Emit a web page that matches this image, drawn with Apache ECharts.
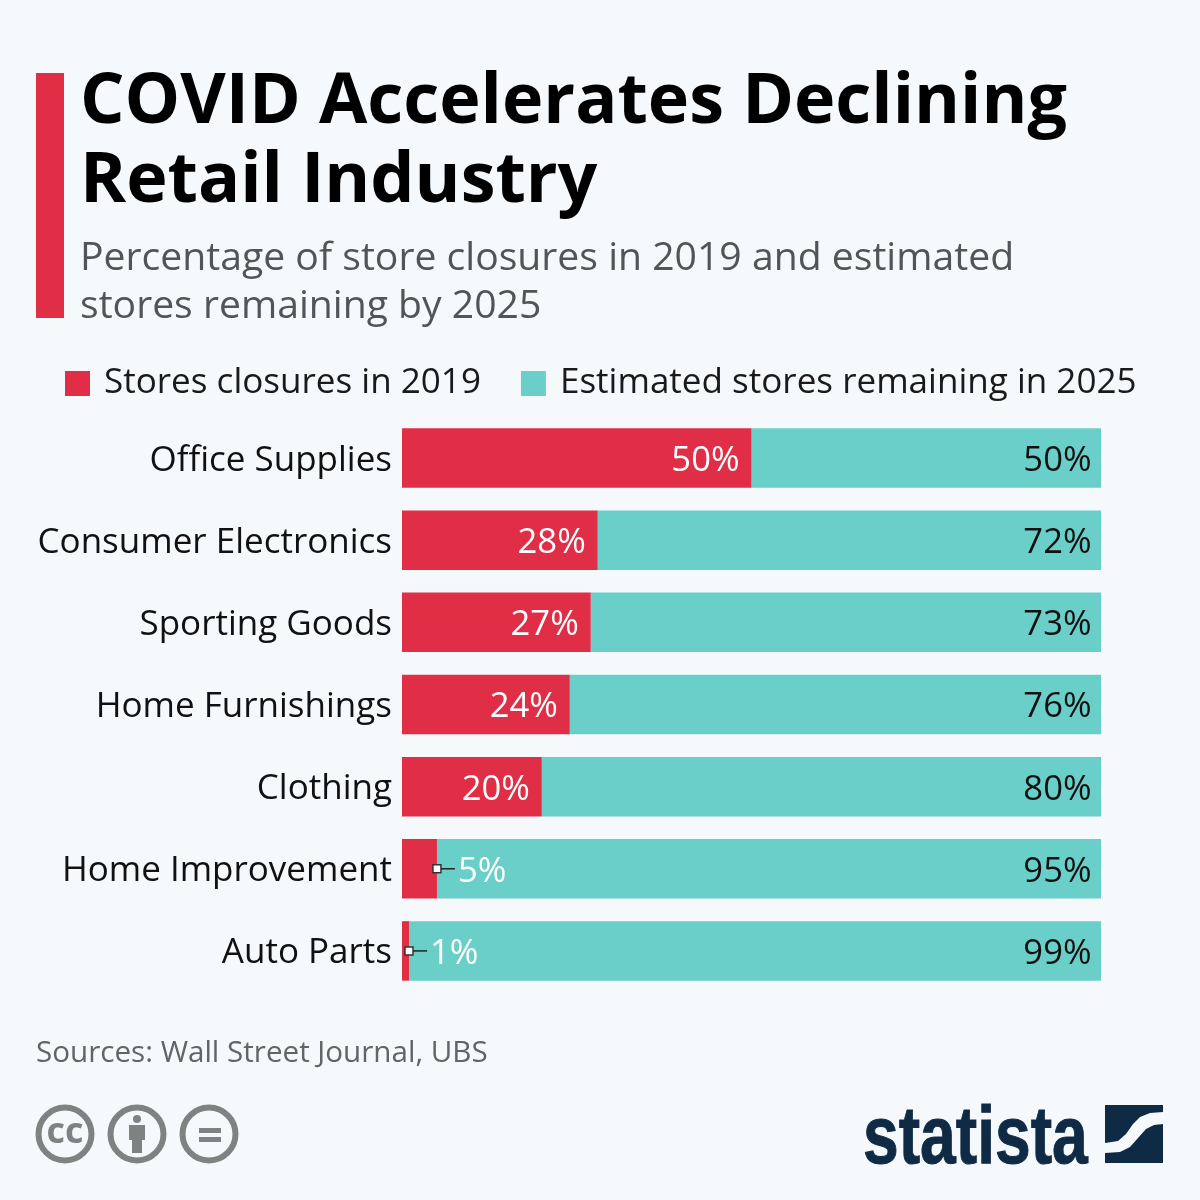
<!DOCTYPE html>
<html>
<head>
<meta charset="utf-8">
<title>COVID Accelerates Declining Retail Industry</title>
<script src="https://cdn.jsdelivr.net/npm/echarts@6/dist/echarts.min.js"></script>
<style>
html, body { margin: 0; padding: 0; background: #f5f9fc; }
#chart { width: 1200px; height: 1200px; }
</style>
</head>
<body>
<div id="chart"></div>
<script>
var categories = ['Office Supplies', 'Consumer Electronics', 'Sporting Goods', 'Home Furnishings', 'Clothing', 'Home Improvement', 'Auto Parts'];
var closures = [50, 28, 27, 24, 20, 5, 1];
var remaining = [50, 72, 73, 76, 80, 95, 99];
var seriesNames = ['Stores closures in 2019', 'Estimated stores remaining in 2025'];

var FONT = '"Open Sans", sans-serif';
var RED = '#e12e47', TEAL = '#6bcfc9', GREY = '#7c8380', NAVY = '#0f2a44';
var CALLOUT_BELOW = 10; // small bars get their label outside with a leader line

var chart = echarts.init(document.getElementById('chart'), null, { renderer: 'canvas' });

function statics() {
	return [
		{ type: 'rect', shape: { x: 36, y: 73, width: 28, height: 245 }, style: { fill: RED } },
		{ type: 'text', x: 36, y: 1039, style: { text: 'Sources: Wall Street Journal, UBS', font: '29.6px ' + FONT, fill: '#5f6666', verticalAlign: 'top' } },
		// cc icons
		{ type: 'circle', shape: { cx: 65, cy: 1134, r: 26.5 }, style: { fill: 'none', stroke: GREY, lineWidth: 6 } },
		{ type: 'circle', shape: { cx: 137, cy: 1134, r: 26.5 }, style: { fill: 'none', stroke: GREY, lineWidth: 6 } },
		{ type: 'circle', shape: { cx: 209, cy: 1134, r: 26.5 }, style: { fill: 'none', stroke: GREY, lineWidth: 6 } },
		{ type: 'text', x: 65, y: 1133, style: { text: 'cc', font: 'bold 36px ' + FONT, fill: GREY, align: 'center', verticalAlign: 'middle' } },
		{ type: 'circle', shape: { cx: 137, cy: 1119, r: 4 }, style: { fill: GREY } },
		{ type: 'rect', shape: { x: 129, y: 1125, width: 16, height: 15 }, style: { fill: GREY } },
		{ type: 'rect', shape: { x: 132, y: 1140, width: 10, height: 13 }, style: { fill: GREY } },
		{ type: 'rect', shape: { x: 199, y: 1128, width: 22, height: 5 }, style: { fill: GREY } },
		{ type: 'rect', shape: { x: 199, y: 1137, width: 22, height: 5 }, style: { fill: GREY } },
		// statista logo
		{ type: 'text', x: 863, y: 1181, scaleX: 0.783, style: { text: 'statista', font: 'bold 82px "Liberation Sans", sans-serif', fill: NAVY, stroke: NAVY, lineWidth: 1, verticalAlign: 'bottom' } },
		{ type: 'polygon', shape: { points: [[1105, 1105], [1163, 1105], [1163, 1112], [1150, 1113], [1140, 1117], [1133, 1124], [1126, 1134], [1118, 1141], [1105, 1143]] }, style: { fill: NAVY } },
		{ type: 'polygon', shape: { points: [[1163, 1124], [1163, 1163], [1105, 1163], [1105, 1153], [1120, 1152], [1130, 1147], [1138, 1138], [1146, 1129], [1154, 1125]] }, style: { fill: NAVY } }
	];
}

var option = {
	animation: false,
	backgroundColor: '#f5f9fc',
	textStyle: { fontFamily: FONT },
	title: [
		{ text: 'COVID Accelerates Declining\nRetail Industry', left: 75, top: 59, textStyle: { fontFamily: FONT, fontSize: 70, fontWeight: 'bold', color: '#000', lineHeight: 79 } },
		{ text: 'Percentage of store closures in 2019 and estimated\nstores remaining by 2025', left: 75, top: 230, textStyle: { fontFamily: FONT, fontSize: 39.15, fontWeight: 'normal', color: '#505657', lineHeight: 48 } }
	],
	legend: {
		left: 60, top: 361, itemWidth: 25, itemHeight: 25, itemGap: 40, icon: 'rect', selectedMode: false,
		textStyle: { fontFamily: FONT, fontSize: 35.05, color: '#1a1a1a', padding: [2, 0, 0, 9] },
		data: seriesNames
	},
	grid: { left: 402, top: 417, width: 699, height: 575, containLabel: false },
	xAxis: { type: 'value', min: 0, max: 100, show: false },
	yAxis: {
		type: 'category', inverse: true, data: categories,
		axisLine: { show: false }, axisTick: { show: false },
		// top-aligned with a tiny line height pushes the text 2.5px under the band centre
		axisLabel: { fontFamily: FONT, fontSize: 35, color: '#111', margin: 10, verticalAlign: 'top', lineHeight: 5 }
	},
	series: [
		{
			name: seriesNames[0], type: 'bar', stack: 'total', barWidth: 59.5, itemStyle: { color: RED }, z: 3,
			data: closures.map(function (v) {
				var small = v < CALLOUT_BELOW;
				return { value: v, label: { position: small ? 'right' : 'insideRight', distance: small ? 21 : 12 } };
			}),
			label: { show: true, formatter: '{c}%', fontFamily: FONT, fontSize: 34.6, color: '#fff', offset: [0, 3] }
		},
		{
			name: seriesNames[1], type: 'bar', stack: 'total', barWidth: 59.5, itemStyle: { color: TEAL }, z: 1,
			data: remaining,
			label: { show: true, position: 'insideRight', distance: 9.5, formatter: '{c}%', fontFamily: FONT, fontSize: 34.6, color: '#111', offset: [0, 3] }
		}
	],
	graphic: statics()
};
chart.setOption(option);

// leader lines for the small bars, placed through the axis scales
var leaders = [];
closures.forEach(function (v, i) {
	if (v >= CALLOUT_BELOW) return;
	var p = chart.convertToPixel({ gridIndex: 0 }, [v, categories[i]]);
	leaders.push({ type: 'line', z: 10, shape: { x1: p[0], y1: p[1], x2: p[0] + 18, y2: p[1] }, style: { stroke: '#222', lineWidth: 1.5 } });
	leaders.push({ type: 'rect', z: 11, shape: { x: p[0] - 4, y: p[1] - 4, width: 8, height: 8 }, style: { fill: '#fff', stroke: '#333', lineWidth: 1.5 } });
});
chart.setOption({ graphic: statics().concat(leaders) }, { replaceMerge: ['graphic'] });
</script>
</body>
</html>
